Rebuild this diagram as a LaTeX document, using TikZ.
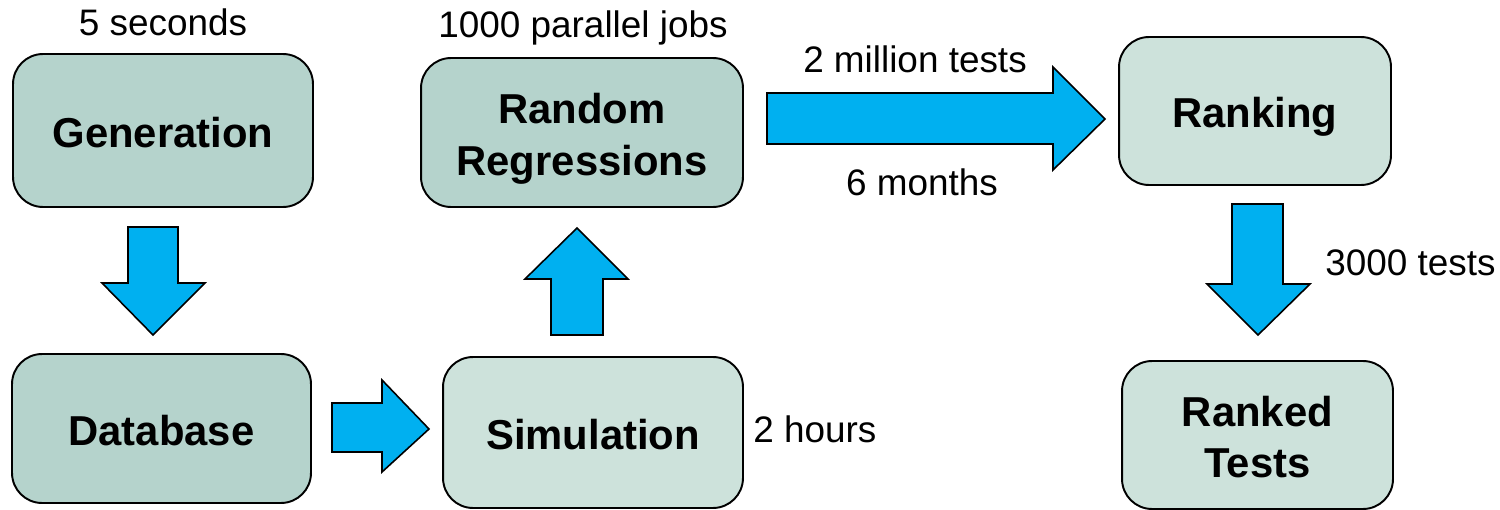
\documentclass[tikz,border=0pt]{standalone}
\usepackage{fontspec}
\setmainfont{Liberation Sans}
\definecolor{boxdark}{HTML}{B5D3CC}
\definecolor{boxlight}{HTML}{CDE2DB}
\definecolor{arrowblue}{HTML}{00B0F0}
\begin{document}
\begin{tikzpicture}[x=0.02cm, y=-0.02cm,
  stage/.style={draw=black, line width=1.1pt, rounded corners=0.6cm,
    align=center, inner sep=0pt, text height=19.3pt, text depth=0pt,
    font=\fontsize{23.8}{29.5}\selectfont\bfseries},
  twolines/.style={text height=48.8pt, text depth=0pt},
  darkstage/.style={stage, fill=boxdark},
  lightstage/.style={stage, fill=boxlight},
  blockarrow/.style={draw=black, line width=0.9pt, fill=arrowblue, line join=miter},
  note/.style={inner sep=0pt, font=\fontsize{21}{25}\selectfont}]
\useasboundingbox (0,0) rectangle (1500,510);

% process stages
\node[darkstage, minimum width=6cm, minimum height=3.06cm] (gen) at (163,130.5) {Generation};
\node[darkstage, minimum width=5.98cm, minimum height=2.98cm] (db) at (161.5,428.5) {Database};
\node[darkstage, twolines, minimum width=6.44cm, minimum height=2.98cm] (rr) at (582,132.5) {Random\\Regressions};
\node[lightstage, minimum width=6cm, minimum height=3.02cm] (sim) at (593,432.5) {Simulation};
\node[lightstage, minimum width=5.44cm, minimum height=2.96cm] (rank) at (1255,111) {Ranking};
\node[lightstage, twolines, minimum width=5.42cm, minimum height=2.96cm] (ranked) at (1257.5,435) {Ranked\\Tests};

% block arrows between the stages
\draw[blockarrow] (128,227) -- (178,227) -- (178,283) -- (205,283) -- (153,335)
  -- (102,283) -- (128,283) -- cycle;
\draw[blockarrow] (332,403) -- (382,403) -- (382,380) -- (429,429) -- (382,472)
  -- (382,452) -- (332,452) -- cycle;
\draw[blockarrow] (551,335) -- (551,279) -- (525,279) -- (577,228) -- (628,279)
  -- (603,279) -- (603,335) -- cycle;
\draw[blockarrow] (767,93) -- (1053,93) -- (1053,67) -- (1105,119) -- (1053,170)
  -- (1053,144) -- (767,144) -- cycle;
\draw[blockarrow] (1232,204) -- (1283,204) -- (1283,284) -- (1310,284) -- (1258,335)
  -- (1207,284) -- (1232,284) -- cycle;

% annotations
\node[note] (t1) at (163,22) {5 seconds};
\node[note] (t2) at (583,28) {1000 parallel jobs};
\node[note] (t3) at (915,59) {2 million tests};
\node[note] (t4) at (922,182) {6 months};
\node[note, anchor=west] (t5) at (1325,263) {3000 tests};
\node[note, anchor=west] (t6) at (753,429) {2 hours};
\end{tikzpicture}
\end{document}
